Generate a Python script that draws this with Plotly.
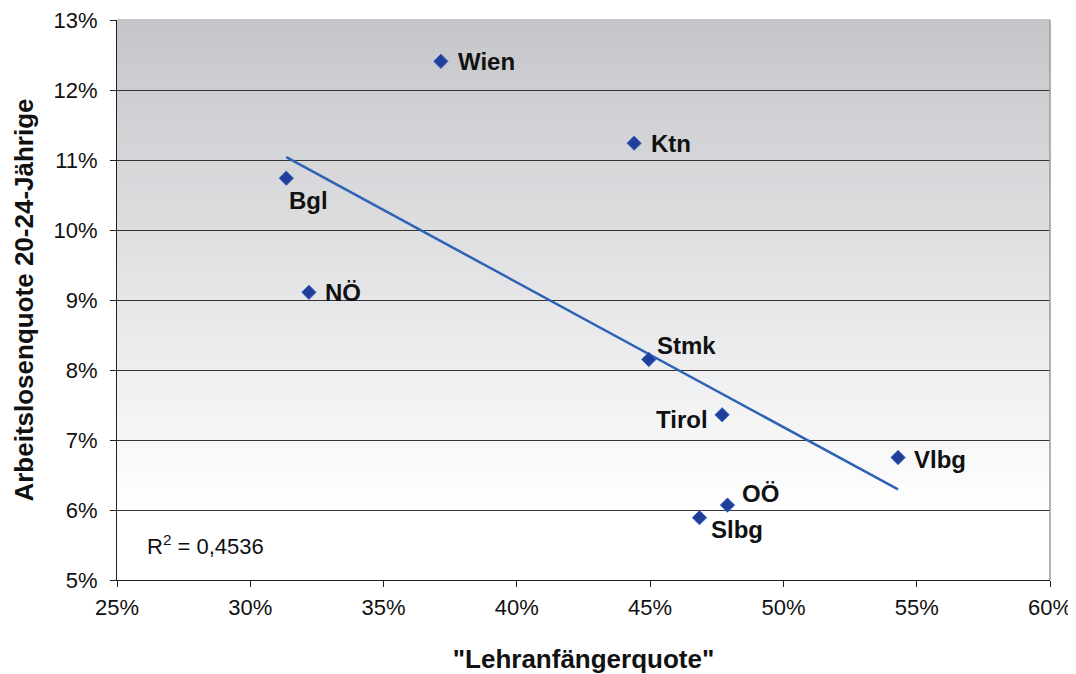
import numpy as np
import plotly.graph_objects as go

regions = ["Wien", "Ktn", "Bgl", "NÖ", "Stmk", "Tirol", "Vlbg", "OÖ", "Slbg"]
lehranfaenger = [37.15, 44.40, 31.35, 32.20, 44.95, 47.70, 54.30, 47.90, 46.85]
arbeitslos = [12.41, 11.24, 10.74, 9.11, 8.15, 7.36, 6.75, 6.07, 5.89]
r2_text = "R<sup>2</sup> = 0,4536"

x_ticks = [25, 30, 35, 40, 45, 50, 55, 60]
y_ticks = [5, 6, 7, 8, 9, 10, 11, 12, 13]

# label offsets (pixels) : (xanchor, xshift, yshift)
label_pos = {
    "Wien": ("left", 15, 0),
    "Ktn": ("left", 15, 0),
    "Bgl": ("left", 1, -22),
    "NÖ": ("left", 14, 0),
    "Stmk": ("left", 6, 14),
    "Tirol": ("right", -12, -5),
    "Vlbg": ("left", 14, -2),
    "OÖ": ("left", 13, 12),
    "Slbg": ("left", 10, -12),
}

FONT = "Liberation Sans, Arial, sans-serif"

x = np.array(lehranfaenger)
y = np.array(arbeitslos)
slope, intercept = np.polyfit(x, y, 1)
xl = np.array([x.min(), x.max()])
yl = slope * xl + intercept

fig = go.Figure()

fig.add_trace(go.Scatter(
    x=xl, y=yl, mode="lines",
    line=dict(color="#2e62b5", width=2.5),
    hoverinfo="skip", showlegend=False,
))
fig.add_trace(go.Scatter(
    x=lehranfaenger, y=arbeitslos, mode="markers",
    marker=dict(symbol="diamond", size=11, color="#1f3f9a",
                line=dict(color="#3d64c4", width=1)),
    text=regions, showlegend=False,
))

for name, xv, yv in zip(regions, lehranfaenger, arbeitslos):
    anc, xs, ys = label_pos[name]
    fig.add_annotation(x=xv, y=yv, text=name, showarrow=False,
                       xanchor=anc, yanchor="middle", xshift=xs, yshift=ys,
                       font=dict(family=FONT, size=24, color="#111111", weight="bold"))

fig.add_annotation(x=0.03, y=0.062, xref="x domain", yref="y domain",
                   text=r2_text, showarrow=False, xanchor="left", yanchor="middle",
                   font=dict(family=FONT, size=22, color="#111111"))

# vertical gradient background (dark grey at top -> white at bottom)
shapes = []
n = 80
top = np.array([197, 198, 202])
bot = np.array([255, 255, 255])
for i in range(n):
    y0 = i / n
    y1 = (i + 1) / n
    t = (y0 + y1) / 2
    f = min(1.0, max(0.0, (t - 0.12) / 0.88))
    c = bot + (top - bot) * f
    shapes.append(dict(type="rect", xref="x domain", yref="y domain",
                       x0=0, x1=1, y0=y0, y1=y1 + 0.002, layer="below",
                       line=dict(width=0),
                       fillcolor="rgb(%d,%d,%d)" % tuple(c.round().astype(int))))
shapes.append(dict(type="line", xref="x domain", yref="y domain",
                   x0=1, x1=1, y0=0, y1=1, layer="above",
                   line=dict(color="#9a9a9a", width=1.5)))

fig.update_layout(
    width=1068, height=666,
    margin=dict(l=109, r=26, t=12, b=94),
    paper_bgcolor="white", plot_bgcolor="white",
    shapes=shapes,
    font=dict(family=FONT, size=22, color="#111111"),
    xaxis=dict(range=[25, 60], tickvals=x_ticks, ticktext=[f"{v}%" for v in x_ticks],
               showgrid=False, zeroline=False, showline=True, linecolor="#222222",
               linewidth=1, ticks="outside", ticklen=6, tickcolor="#222222",
               ticklabelstandoff=2, automargin=False, ticklabeloverflow="allow",
               title=dict(text='"Lehranfängerquote"', standoff=30,
                          font=dict(family=FONT, size=26, weight="bold"))),
    yaxis=dict(range=[5, 13], tickvals=y_ticks, ticktext=[f"{v}%" for v in y_ticks],
               showgrid=True, gridcolor="#333333", gridwidth=1, zeroline=False,
               showline=True, linecolor="#222222", linewidth=1,
               ticks="outside", ticklen=6, tickcolor="#222222",
               ticklabelstandoff=8, automargin=False, ticklabeloverflow="allow",
               title=dict(text="Arbeitslosenquote 20-24-Jährige", standoff=12,
                          font=dict(family=FONT, size=26, weight="bold"))),
)

fig.write_html("out.html")
